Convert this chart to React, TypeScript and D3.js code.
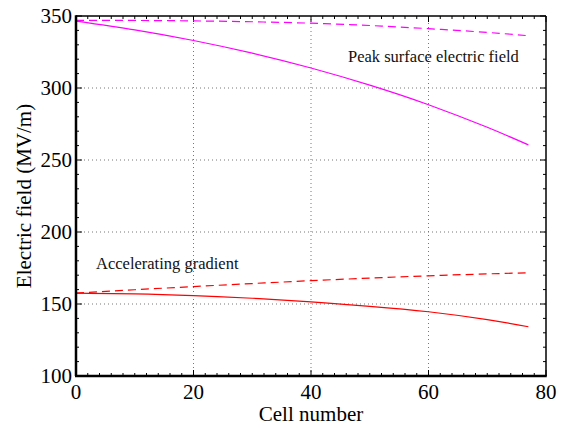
import React, { useEffect, useRef } from "react"
import * as d3 from "d3"

const cells = [0, 10, 20, 30, 40, 50, 60, 70, 77]

// peak surface field (MV/m)
const peakSolid = [346.5, 340.4, 333.0, 324.2, 313.9, 302.0, 288.4, 272.7, 260.5]
const peakDashed = [347, 346.9, 346.6, 346.0, 345.0, 343.4, 341.2, 338.6, 336.3]

// accelerating gradient (MV/m)
const accSolid = [157.5, 157.0, 155.8, 154.0, 151.5, 148.4, 144.6, 139.1, 134.2]
const accDashed = [157.5, 159.9, 162.1, 164.2, 166.2, 168.0, 169.6, 170.9, 171.7]

const xTicks = [0, 20, 40, 60, 80]
const yTicks = [100, 150, 200, 250, 300, 350]

const W = 565
const H = 428
const margin = { top: 16, right: 19, bottom: 52, left: 76 }
const font = "'Liberation Serif', Tinos, 'Nimbus Roman', 'DejaVu Serif', serif"

export default function App() {
  const ref = useRef<SVGSVGElement>(null)

  useEffect(() => {
    const svg = d3.select(ref.current)
    svg.selectAll("*").remove()

    const x = d3.scaleLinear().domain([0, 80]).range([margin.left, W - margin.right])
    const y = d3.scaleLinear().domain([100, 350]).range([H - margin.bottom, margin.top])
    const x0 = x(0), x1 = x(80), y0 = y(100), y1 = y(350)

    // dotted grid
    const grid = svg.append("g").attr("stroke", "#777").attr("stroke-width", 1).attr("stroke-dasharray", "1,3")
    xTicks.slice(1, -1).forEach(t => {
      grid.append("line").attr("x1", x(t)).attr("x2", x(t)).attr("y1", y0).attr("y2", y1)
    })
    yTicks.slice(1, -1).forEach(t => {
      grid.append("line").attr("x1", x0).attr("x2", x1).attr("y1", y(t)).attr("y2", y(t))
    })

    // inward ticks on all four sides
    const ticks = svg.append("g").attr("stroke", "#000").attr("stroke-width", 1)
    d3.range(0, 81, 2).forEach(t => {
      const len = t % 20 === 0 ? 6 : 3
      ticks.append("line").attr("x1", x(t)).attr("x2", x(t)).attr("y1", y0).attr("y2", y0 - len)
      ticks.append("line").attr("x1", x(t)).attr("x2", x(t)).attr("y1", y1).attr("y2", y1 + len)
    })
    d3.range(100, 351, 10).forEach(t => {
      const len = t % 50 === 0 ? 6 : 3
      ticks.append("line").attr("x1", x0).attr("x2", x0 + len).attr("y1", y(t)).attr("y2", y(t))
      ticks.append("line").attr("x1", x1).attr("x2", x1 - len).attr("y1", y(t)).attr("y2", y(t))
    })

    const line = d3.line<number>()
      .x((_, i) => x(cells[i]))
      .y(d => y(d))
      .curve(d3.curveNatural)

    const series = [
      { v: peakSolid, c: "#ff00ff", dash: null },
      { v: peakDashed, c: "#ff00ff", dash: "8,5" },
      { v: accSolid, c: "#ff0000", dash: null },
      { v: accDashed, c: "#ff0000", dash: "8,5" },
    ]
    series.forEach(s => {
      svg.append("path")
        .attr("d", line(s.v))
        .attr("fill", "none")
        .attr("stroke", s.c)
        .attr("stroke-width", 1.2)
        .attr("stroke-dasharray", s.dash)
    })

    // frame
    svg.append("line").attr("x1", x0).attr("x2", x1).attr("y1", y1).attr("y2", y1).attr("stroke", "#000").attr("stroke-width", 1.5)
    svg.append("line").attr("x1", x1).attr("x2", x1).attr("y1", y1).attr("y2", y0).attr("stroke", "#000").attr("stroke-width", 1.5)
    svg.append("line").attr("x1", x0 - 1).attr("x2", x1 + 0.75).attr("y1", y0).attr("y2", y0).attr("stroke", "#000").attr("stroke-width", 2.5)
    svg.append("line").attr("x1", x0).attr("x2", x0).attr("y1", y1 - 0.75).attr("y2", y0).attr("stroke", "#000").attr("stroke-width", 2.5)

    // tick labels
    const labels = svg.append("g").style("font-family", font).style("font-size", "21px").attr("fill", "#000")
    xTicks.forEach(t => {
      labels.append("text").attr("x", x(t)).attr("y", y0 + 23).attr("text-anchor", "middle").text(t)
    })
    yTicks.forEach(t => {
      labels.append("text").attr("x", x0 - 4).attr("y", y(t) + 7).attr("text-anchor", "end").text(t)
    })

    labels.append("text").attr("x", (x0 + x1) / 2).attr("y", 421).attr("text-anchor", "middle").text("Cell number")
    labels.append("text")
      .attr("transform", `translate(31,${(y0 + y1) / 2}) rotate(-90)`)
      .attr("text-anchor", "middle")
      .text("Electric field (MV/m)")

    const notes = svg.append("g").style("font-family", font).style("font-size", "16.5px").attr("fill", "#111")
    notes.append("text").attr("x", 348).attr("y", 62).text("Peak surface electric field")
    notes.append("text").attr("x", 96).attr("y", 269).text("Accelerating gradient")
  }, [])

  return (
    <svg
      ref={ref}
      width={W}
      height={H}
      style={{ position: "absolute", left: 0, top: 0, background: "#fff" }}
    />
  )
}
